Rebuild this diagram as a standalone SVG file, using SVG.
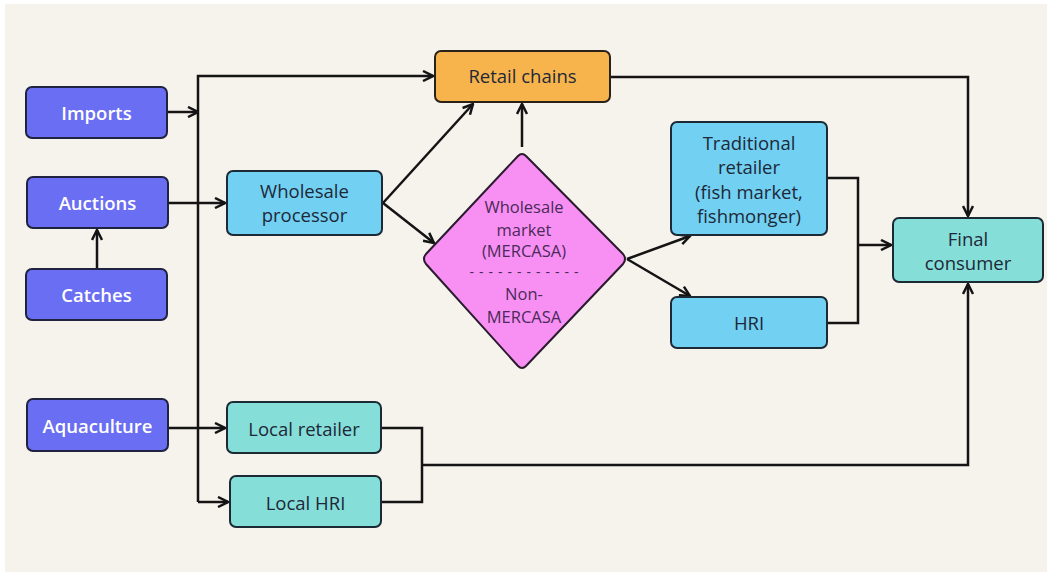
<svg xmlns="http://www.w3.org/2000/svg" width="1047" height="577" viewBox="0 0 1047 577">
<style>
.src rect{fill:#6a6ef2;stroke:#1f2340;stroke-width:2}
.src text{fill:#ffffff;font-weight:600}
.blue rect{fill:#72d0f2;stroke:#1c2a36;stroke-width:2}
.teal rect{fill:#86ded8;stroke:#1c2a36;stroke-width:2}
.orange rect{fill:#f8b44c;stroke:#2a2218;stroke-width:2}
text{font-family:"Open Sans","Noto Sans",sans-serif;font-size:18.5px;fill:#1d2838;text-anchor:middle;dominant-baseline:central}
.dia text{fill:#4a2a58;font-size:16.5px}
.dash{font-size:14px;letter-spacing:5px}
#connectors path,#connectors line{fill:none;stroke:#141414;stroke-width:2.5}
</style>
<defs>
<marker id="ah" viewBox="0 0 10 10" refX="9" refY="5" markerWidth="5" markerHeight="5" orient="auto" markerUnits="strokeWidth">
<path d="M1,1 L9,5 L1,9" fill="none" stroke="#141414" stroke-width="2"/>
</marker>
</defs>
<rect x="0" y="0" width="1047" height="577" fill="#ffffff"/>
<rect x="5" y="4" width="1042" height="568" fill="#f6f2ec"/>

<g id="connectors">
<path d="M198,502 L198,76 L433,76" marker-end="url(#ah)"/>
<line x1="167" y1="112" x2="198" y2="112" marker-end="url(#ah)"/>
<line x1="168" y1="203" x2="225" y2="203" marker-end="url(#ah)"/>
<line x1="97" y1="269" x2="97" y2="230" marker-end="url(#ah)"/>
<line x1="383" y1="203" x2="473" y2="104" marker-end="url(#ah)"/>
<line x1="383" y1="203" x2="434" y2="243" marker-end="url(#ah)"/>
<line x1="522" y1="147" x2="522" y2="104" marker-end="url(#ah)"/>
<line x1="627" y1="259" x2="690" y2="236" marker-end="url(#ah)"/>
<line x1="627" y1="259" x2="690" y2="296" marker-end="url(#ah)"/>
<path d="M610,77 L968,77 L968,216" marker-end="url(#ah)"/>
<path d="M828,178 L858,178 L858,323 L828,323"/>
<line x1="858" y1="245" x2="891" y2="245" marker-end="url(#ah)"/>
<line x1="167" y1="428" x2="225" y2="428" marker-end="url(#ah)"/>
<path d="M198,502 L228,502" marker-end="url(#ah)"/>
<path d="M382,428 L422,428 L422,502 L382,502"/>
<path d="M422,465 L968,465 L968,284" marker-end="url(#ah)"/>
</g>

<g id="imports" class="src"><rect x="26" y="87" width="141" height="51" rx="6"/><text x="96.5" y="112">Imports</text></g>
<g id="auctions" class="src"><rect x="27" y="177" width="141" height="51" rx="6"/><text x="97.5" y="202">Auctions</text></g>
<g id="catches" class="src"><rect x="26" y="269" width="141" height="51" rx="6"/><text x="96.5" y="294">Catches</text></g>
<g id="aquaculture" class="src"><rect x="27" y="399" width="141" height="52" rx="6"/><text x="97.5" y="425">Aquaculture</text></g>

<g id="wholesale-processor" class="blue"><rect x="227" y="171" width="155" height="64" rx="6"/><text x="304.5" y="190"><tspan x="304.5" y="190">Wholesale</tspan><tspan x="304.5" y="214">processor</tspan></text></g>

<g id="retail-chains" class="orange"><rect x="435" y="51" width="175" height="51" rx="6"/><text x="522.5" y="75">Retail chains</text></g>

<g id="wholesale-market" class="dia">
<path d="M518,156 Q522,152 526,156 L623,254 Q627,259 623,264 L526,366 Q522,370 518,366 L426,264 Q422,259 426,254 Z" fill="#f890f4" stroke="#2a1a2e" stroke-width="2"/>
<text x="524" y="206"><tspan x="524" y="206">Wholesale</tspan><tspan x="524" y="228.5">market</tspan><tspan x="524" y="250">(MERCASA)</tspan><tspan class="dash" x="526.5" y="271">------------</tspan><tspan x="524" y="293">Non-</tspan><tspan x="524" y="315.5">MERCASA</tspan></text>
</g>

<g id="traditional-retailer" class="blue"><rect x="671" y="122" width="156" height="113" rx="6"/><text x="749" y="142"><tspan x="749" y="142">Traditional</tspan><tspan x="749" y="166">retailer</tspan><tspan x="749" y="191">(fish market,</tspan><tspan x="749" y="215">fishmonger)</tspan></text></g>

<g id="hri" class="blue"><rect x="671" y="297" width="156" height="51" rx="6"/><text x="749" y="322">HRI</text></g>

<g id="final-consumer" class="teal"><rect x="893" y="218" width="150" height="64" rx="6"/><text x="968" y="238"><tspan x="968" y="238">Final</tspan><tspan x="968" y="262">consumer</tspan></text></g>

<g id="local-retailer" class="teal"><rect x="227" y="402" width="154" height="51" rx="6"/><text x="304" y="428">Local retailer</text></g>

<g id="local-hri" class="teal"><rect x="230" y="476" width="151" height="51" rx="6"/><text x="305.5" y="502">Local HRI</text></g>
</svg>
